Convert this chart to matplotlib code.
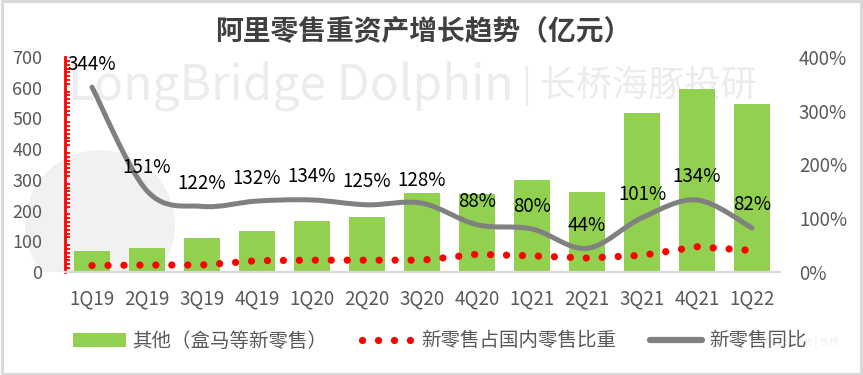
import numpy as np
import matplotlib
matplotlib.use("Agg")
import matplotlib.pyplot as plt
from matplotlib.path import Path
from matplotlib.patches import PathPatch, Patch, Rectangle, Ellipse
from matplotlib.lines import Line2D
from matplotlib.ticker import FixedLocator, FuncFormatter

plt.rcParams['font.family'] = ['Noto Sans CJK SC', 'DejaVu Sans']

# ---- data ----
quarters = ["1Q19", "2Q19", "3Q19", "4Q19", "1Q20", "2Q20", "3Q20",
            "4Q20", "1Q21", "2Q21", "3Q21", "4Q21", "1Q22"]
others = [70, 78, 110, 133, 166, 179, 257, 255, 300, 260, 518, 596, 547]
share_pct = [12, 13, 13, 21, 22, 22, 22, 33, 30, 26, 31, 47, 40]
yoy_pct = [344, 151, 122, 132, 134, 125, 128, 88, 80, 44, 101, 134, 82]
left_ticks = [0, 100, 200, 300, 400, 500, 600, 700]
right_ticks = [0, 100, 200, 300, 400]

title = "阿里零售重资产增长趋势（亿元）"
lab_bar = "其他（盒马等新零售）"
lab_share = "新零售占国内零售比重"
lab_yoy = "新零售同比"

GREEN = "#92D050"
RED = "#FF0000"
GREY = "#808080"
TXT = "#595959"
WM = "#ECECEC"

W, H = 863, 375
fig = plt.figure(figsize=(W / 100, H / 100), dpi=100)

# border
fig.patches.append(Rectangle((0.002, 0.003), 0.996, 0.994, transform=fig.transFigure,
                             fill=False, edgecolor="#D9D9D9", lw=2.2, zorder=0))

# watermark
fig.text(68 / W, 1 - 86 / H, "LongBridge Dolphin", fontsize=34.5, color=WM,
         ha="left", va="center", zorder=0)
fig.text(521 / W, 1 - 86 / H, "|", fontsize=26, color=WM, ha="left", va="center", zorder=0)
fig.text(540 / W, 1 - 86 / H, "长桥海豚投研", fontsize=26, color=WM,
         ha="left", va="center", zorder=0)
fig.text(760 / W, 1 - 342 / H, "LongBridge | 长桥", fontsize=7, color="#EEEEEE",
         ha="left", va="center", zorder=0)

x = np.arange(len(quarters))

ax1 = fig.add_axes([64.5 / W, 103 / H, 715 / W, 215 / H])
ax1.set_zorder(1)
ax1.patch.set_visible(False)

circ = Ellipse((100 / W, 1 - 225 / H), 150 / W, 150 / H, transform=fig.transFigure,
               facecolor="#F1F1F1", edgecolor="none", zorder=0)
clip = Rectangle((0, 1 - 272 / H), 1, 272 / H, transform=fig.transFigure,
                 facecolor="none", edgecolor="none")
fig.patches.append(circ)
circ.set_clip_path(clip)

ax1.bar(x, others, width=0.67, color=GREEN, zorder=2)
ax1.set_xlim(-0.5, len(quarters) - 0.5)
ax1.set_ylim(0, 700)
ax1.set_yticks(left_ticks)
ax1.yaxis.set_minor_locator(FixedLocator(np.linspace(0, 700, 57)))
ax1.tick_params(axis="y", which="major", length=0, pad=16, labelsize=13, labelcolor=TXT)
ax1.tick_params(axis="y", which="minor", length=3.5, width=1.3, direction="in", color=RED)
ax1.set_xticks(x)
ax1.set_xticklabels(quarters)
ax1.tick_params(axis="x", length=0, pad=12, labelsize=13.5, labelcolor=TXT)
for s in ["top", "right"]:
    ax1.spines[s].set_visible(False)
ax1.spines["left"].set_color(RED)
ax1.spines["left"].set_linewidth(2)
ax1.spines["bottom"].set_color("#D9D9D9")
ax1.spines["bottom"].set_linewidth(1.6)

ax2 = ax1.twinx()
ax2.set_zorder(2)
ax2.patch.set_visible(False)
ax2.set_ylim(0, 400)
ax2.set_yticks(right_ticks)
ax2.yaxis.set_major_formatter(FuncFormatter(lambda v, p: f"{int(v)}%"))
ax2.tick_params(axis="y", length=0, pad=14, labelsize=13.5, labelcolor=TXT)
for s in ["top", "right", "left", "bottom"]:
    ax2.spines[s].set_visible(False)

# red dotted share line
ax2.plot(x, share_pct, color=RED, lw=5.2, linestyle=(0, (0.01, 2.2)),
         dash_capstyle="round", zorder=3)

# smoothed yoy line (Catmull-Rom -> cubic Bezier)
pts = np.column_stack([x, yoy_pct]).astype(float)
verts = [tuple(pts[0])]
codes = [Path.MOVETO]
n = len(pts)
for i in range(n - 1):
    p0 = pts[i - 1] if i > 0 else pts[i]
    p1 = pts[i]
    p2 = pts[i + 1]
    p3 = pts[i + 2] if i + 2 < n else pts[i + 1]
    c1 = p1 + (p2 - p0) / 6.0
    c2 = p2 - (p3 - p1) / 6.0
    verts += [tuple(c1), tuple(c2), tuple(p2)]
    codes += [Path.CURVE4] * 3
ax2.add_patch(PathPatch(Path(verts, codes), fill=False, edgecolor=GREY, lw=3.6,
                        capstyle="round", joinstyle="round", zorder=4))

for xi, v in zip(x, yoy_pct):
    ax2.annotate(f"{v}%", (xi, v), xytext=(0, 9), textcoords="offset points",
                 ha="center", va="bottom", fontsize=13.5, color="black", zorder=5)

fig.text(423 / W, 1 - 31 / H, title, fontsize=20, fontweight="bold", color="#404040",
         ha="center", va="center")

handles = [Patch(facecolor=GREEN, edgecolor="none"),
           Line2D([], [], color=RED, lw=5.2, linestyle=(0, (0.01, 2.2)), dash_capstyle="round"),
           Line2D([], [], color=GREY, lw=4.5, solid_capstyle="round")]
fig.legend(handles, [lab_bar, lab_share, lab_yoy], loc="center",
           bbox_to_anchor=(440 / W, 1 - 341 / H), ncol=3, frameon=False,
           fontsize=14, handlelength=2.7, handleheight=0.75, handletextpad=0.35,
           columnspacing=1.75, labelcolor=TXT)

fig.savefig("out.png", dpi=100)
